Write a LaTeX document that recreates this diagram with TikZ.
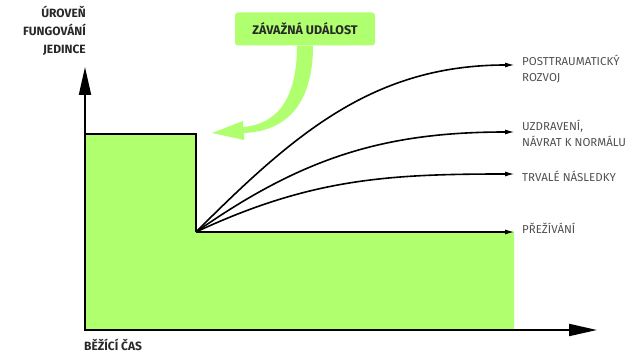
\documentclass[tikz,border=0pt]{standalone}
\usepackage{fontspec}
\setmainfont{Fira Sans}
\usetikzlibrary{arrows.meta, positioning}
\definecolor{eventgreen}{RGB}{175,255,110}
\definecolor{labelgray}{RGB}{80,80,80}
\definecolor{axisgray}{RGB}{40,40,40}

\begin{document}
\begin{tikzpicture}[
    x=1pt, y=1pt,
    axis/.style={line width=2pt, line cap=rect, -{Triangle[length=28pt, width=12pt]}},
    patharrow/.style={line width=1.6pt, -{Latex[length=10pt, width=5pt]}},
    outcome/.style={align=left, font=\fontsize{11.5}{16}\selectfont, text=labelgray, inner sep=0pt},
    axislabel/.style={font=\bfseries\fontsize{12}{18}\selectfont, text=axisgray, inner sep=0pt},
    callout/.style={fill=eventgreen, rounded corners=3pt, minimum width=140pt, minimum height=33pt, font=\bfseries\fontsize{12.5}{16}\selectfont, text=axisgray}
]
    \useasboundingbox (0,0) rectangle (635,353);

    % functioning level before and after the event
    \fill[eventgreen] (85,219) -- (196,219) -- (196,121) -- (514,121) -- (514,23) -- (85,23) -- cycle;
    \draw[line width=2pt] (85,219) -- (196,219) -- (196,121);

    % axes
    \coordinate (origin) at (85,23);
    \coordinate (ytip) at (85,286);
    \coordinate (xtip) at (597,23);
    \draw[axis] (origin) -- (ytip);
    \draw[axis] (origin) -- (xtip);
    \node[axislabel, align=right, anchor=south east] (level) at (86,297) {ÚROVEŇ\\FUNGOVÁNÍ\\JEDINCE};
    \node[axislabel, anchor=base west] (time) at (84,2) {BĚŽÍCÍ ČAS};

    % the event
    \node[callout] (event) at (305,324) {ZÁVAŽNÁ UDÁLOST};
    \coordinate (hit) at (212,220);
    \fill[eventgreen] ([xshift=-8pt]event.south) .. controls (297,258) and (280,229) .. (243,226)
        -- (243,232) -- (hit) -- (244,213) -- (244,220)
        .. controls (290,222) and (313,253) .. ([xshift=8pt]event.south) -- cycle;

    % outcomes
    \coordinate (turn) at (196,121);
    \coordinate (growth) at (515,288);
    \coordinate (recovery) at (515,221);
    \coordinate (lasting) at (515,179);
    \coordinate (survival) at (515,121);

    \draw[patharrow] (turn) to[out=45, in=180] (growth);
    \draw[patharrow] (turn) to[out=35, in=180] (recovery);
    \draw[patharrow] (turn) to[out=25, in=180] (lasting);
    \draw[patharrow] (turn) -- (survival);

    \node[outcome, anchor=west] (growthlbl) at (522,284) {POSTTRAUMATICKÝ\\ROZVOJ};
    \node[outcome, anchor=west] (recoverylbl) at (522,220) {UZDRAVENÍ,\\NÁVRAT K NORMÁLU};
    \node[outcome, anchor=west] (lastinglbl) at (522,177) {TRVALÉ NÁSLEDKY};
    \node[outcome, anchor=west] (survivallbl) at (522,125) {PŘEŽÍVÁNÍ};
\end{tikzpicture}
\end{document}
